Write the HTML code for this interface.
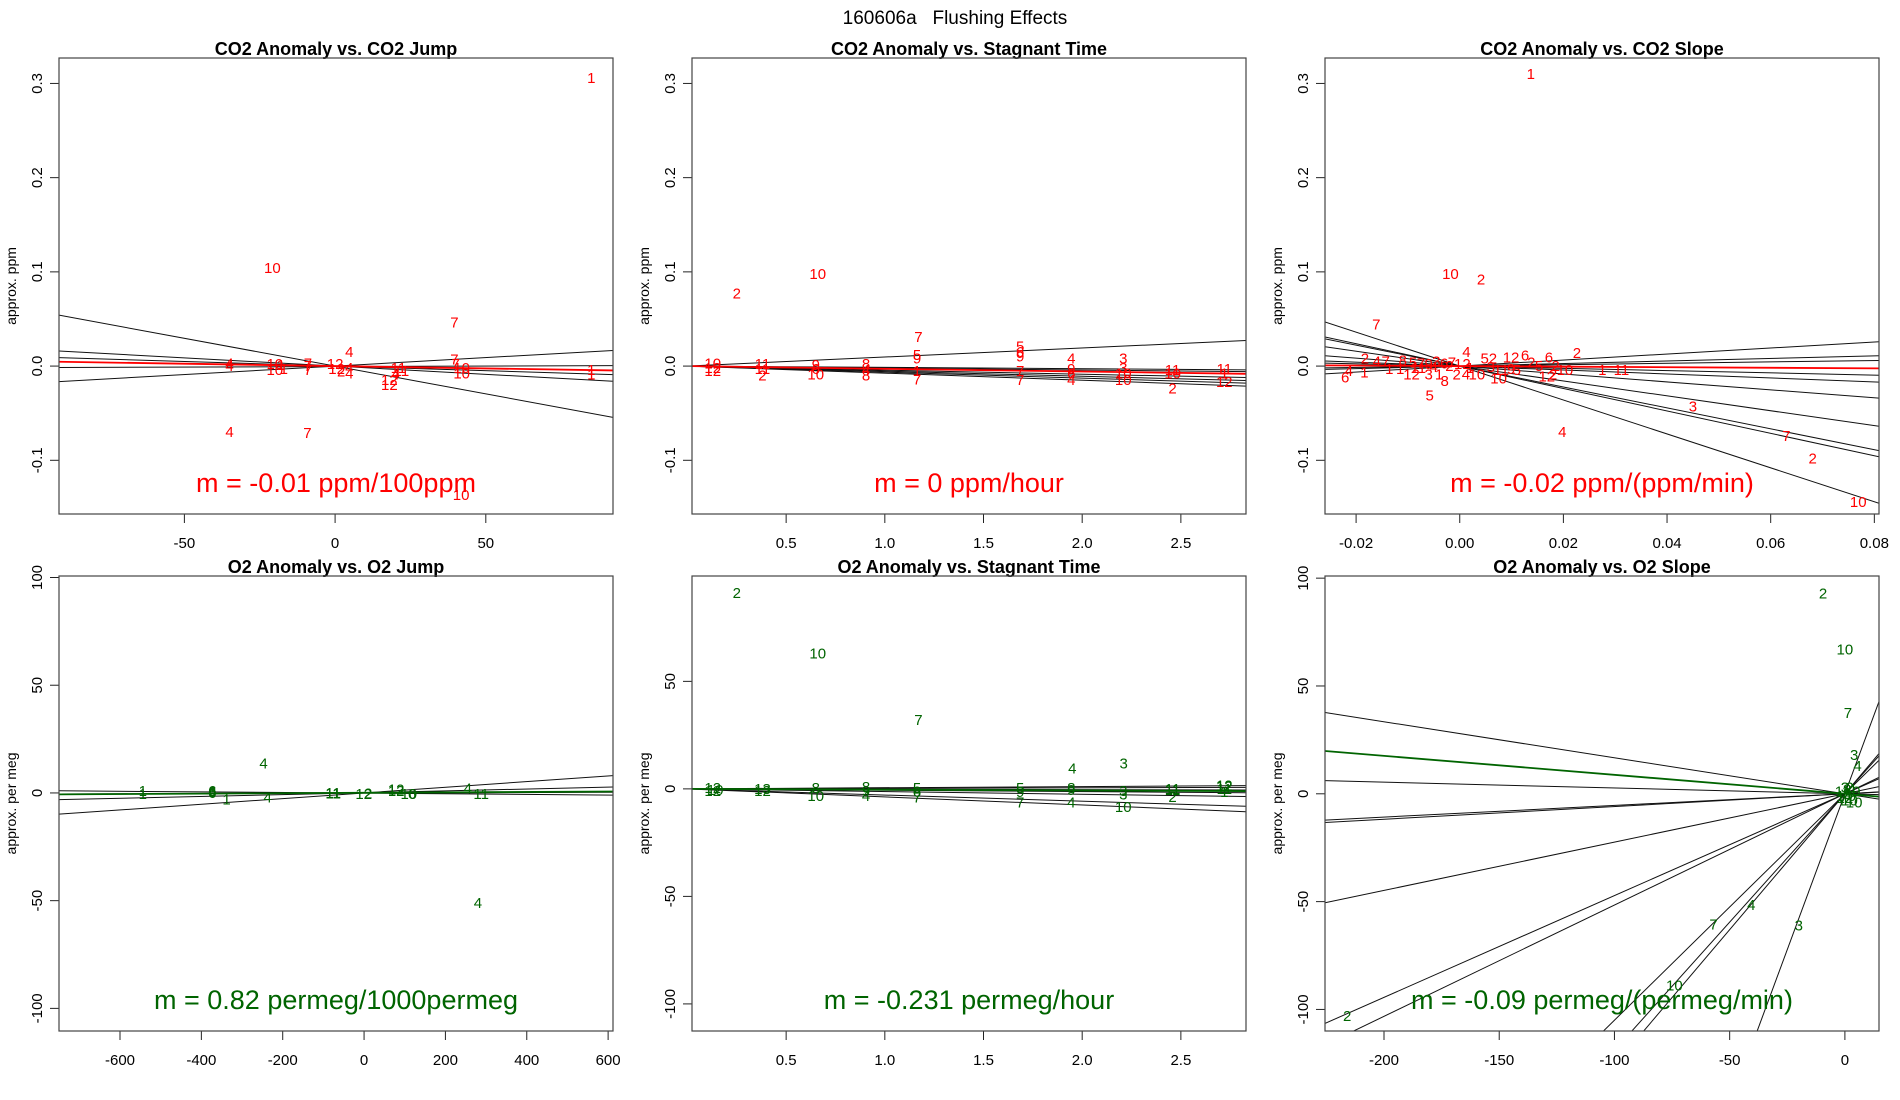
<!DOCTYPE html>
<html><head><meta charset="utf-8"><style>
html,body{margin:0;padding:0;background:#fff;width:1900px;height:1100px;overflow:hidden;}
svg{display:block;font-family:"Liberation Sans",Arial,sans-serif;}
</style></head><body>
<svg id="fig" width="1900" height="1100" viewBox="0 0 1900 1100" xmlns="http://www.w3.org/2000/svg">
<rect width="1900" height="1100" fill="#fff"/>
<text x="955" y="24" font-size="19" text-anchor="middle" style="white-space:pre" xml:space="preserve">160606a   Flushing Effects</text>
</svg>
<script>
// ---- Panel 1: CO2 Anomaly vs. CO2 Jump ----
const p1X=[85,-20.8,39.6,4.7,-35,-9.2,41.8,-35,-35,-20,-18,-20,-17,-9,-9,-9,0,0.5,2,4.7,4.7,18,18,20,21,22,39.6,40,42,42,85,85];
const p1Y=[0.306,0.104,0.046,0.015,-0.070,-0.071,-0.137,0.003,0.0,0.002,0.001,-0.004,-0.003,0.003,0.0,-0.004,0.002,-0.003,-0.006,-0.002,-0.008,-0.015,-0.020,-0.009,-0.002,-0.005,0.007,0.002,-0.002,-0.008,-0.004,-0.009];
const p1Lab=["1","10","7","4","4","7","10","4","4","10","1","10","1","7","7","7","12","12","2","4","4","12","12","4","11","11","7","7","10","10","1","1"];
const p1Slopes=[-0.00059,-0.000175,0.00018,-0.0000983,0.0000109];
const p1Ints=[0,0,0,0,-0.0005];
const p1Main=[-0.00005,0];
const p1XTicks=[-50,0,50];
const p1YTicks=[-0.1,0.0,0.1,0.2,0.3];
const p1YTickLabels=["-0.1","0.0","0.1","0.2","0.3"];

// ---- Panel 2: CO2 Anomaly vs. Stagnant Time ----
const p2X=[0.25,0.66,1.17,1.163,1.163,1.686,1.686,1.686,1.945,2.208,1.163,1.686,1.945,2.208,2.458,2.72,0.38,0.65,0.905,0.128,0.128,0.128,0.38,0.38,0.65,0.65,0.905,0.905,1.163,1.686,1.945,1.945,2.208,2.208,2.458,2.458,2.72,2.72];
const p2Y=[0.077,0.098,0.031,0.012,0.008,0.021,0.015,0.010,0.008,0.008,-0.014,-0.015,-0.015,-0.015,-0.024,-0.017,-0.010,-0.009,-0.010,0.003,-0.002,-0.005,0.002,-0.003,0.001,-0.003,0.002,-0.004,-0.005,-0.005,-0.003,-0.008,-0.002,-0.008,-0.004,-0.008,-0.003,-0.008];
const p2Lab=["2","10","7","5","9","5","6","9","4","3","7","7","4","10","2","12","2","10","8","10","12","12","11","11","9","6","8","4","1","7","9","6","3","10","11","10","11","1"];
const p2Slopes=[0.0096,-0.0014,-0.0021,-0.0043,-0.0054,-0.0064,-0.0075,-0.0029];
const p2Ints=[0,0,0,0,0,0,0,0];
const p2Main=[-0.0029,0];
const p2XTicks=[0.5,1.0,1.5,2.0,2.5];
const p2XTickLabels=["0.5","1.0","1.5","2.0","2.5"];

// ---- Panel 3: CO2 Anomaly vs. CO2 Slope ----
const p3X=[0.01372,-0.0018,0.0041,-0.0161,0.0013,0.0226,0.045,0.0198,0.063,0.0681,0.0769,-0.0058,-0.0029,-0.0221,-0.0214,-0.0184,-0.0183,-0.016,-0.0143,-0.011,-0.0136,-0.0115,-0.0093,-0.006,-0.004,-0.0006,0.0012,0.0033,0.0048,0.0064,0.0099,0.0126,0.0138,0.0153,0.0172,0.0185,0.0203,0.0275,0.0312,0.0075,0.0168,0.018,0.0099,-0.009,-0.0075,-0.006,-0.0045,-0.003,-0.0015,-0.008,-0.005,-0.002,0.0005,0.002,0.006,0.008,0.011];
const p3Y=[0.31,0.098,0.092,0.044,0.015,0.014,-0.043,-0.07,-0.074,-0.098,-0.144,-0.031,-0.016,-0.012,-0.005,-0.007,0.008,0.005,0.005,0.006,-0.003,-0.003,-0.009,-0.009,-0.009,-0.009,-0.009,-0.009,0.008,0.008,0.009,0.011,0.004,0.0,0.009,0.0,-0.004,-0.004,-0.004,-0.013,-0.011,-0.009,-0.003,0.004,0.003,0.002,0.005,0.003,0.004,-0.002,-0.001,0.0,0.002,-0.002,-0.001,-0.004,-0.004];
const p3Lab=["1","10","2","7","4","2","3","4","7","2","10","5","8","6","4","1","2","4","7","8","1","1","12","3","1","2","4","10","5","2","12","6","2","5","6","2","10","1","11","10","12","2","9","5","7","9","3","6","7","11","4","2","12","1","3","11","5"];
const p3Slopes=[-1.8,-1.19,-1.11,-0.79,-0.42,-0.21,-0.12,0.074,0.136,0.32];
const p3Ints=[0,0,0,0,0,0,0,0,0,0];
const p3Main=[-0.03,0];
const p3XTicks=[-0.02,0.0,0.02,0.04,0.06,0.08];
const p3XTickLabels=["-0.02","0.00","0.02","0.04","0.06","0.08"];

// ---- Panel 4: O2 Anomaly vs. O2 Jump ----
const p4X=[-247,280,-544,-373,-373,-338,-237,-76,-1,79,110,255,288,-544,-373,-76,-68,79,118,10];
const p4Y=[13.6,-51,-0.5,1,0,-3,-2,0,-0.5,1,-0.5,2,-0.5,0.8,0.5,-0.3,-0.2,1.5,-0.5,-0.3];
const p4Lab=["4","4","1","6","6","1","4","11","12","12","10","4","11","1","6","11","1","12","6","2"];
const p4Slopes=[0.01314,-0.00147,0.0043,0.00059];
const p4Ints=[0,-0.1,0.1,-0.06];
const p4Main=[0.00097,0.07];
const p4XTicks=[-600,-400,-200,0,200,400,600];
const p4YTicks=[-100,-50,0,50,100];

// ---- Panel 5: O2 Anomaly vs. Stagnant Time ----
const p5X=[0.25,0.66,1.17,1.95,2.21,0.65,0.905,1.163,1.686,1.945,2.208,2.458,2.72,0.128,0.14,0.128,0.38,0.38,0.65,0.905,0.905,1.163,1.163,1.686,1.686,1.945,1.945,2.208,2.208,2.458,2.458,2.72,2.72,2.72];
const p5Y=[91,63,32,9.5,11.7,-3.3,-3.3,-4,-6.3,-6.3,-8.5,-3.8,1,0.5,-0.5,-1,0,-1,0.5,0.8,-1,0.5,-1.5,0.3,-1.5,0.5,-0.5,-1,-2.5,-0.5,0,1.5,0,-1.5];
const p5Lab=["2","10","7","4","3","10","4","7","7","4","10","2","12","12","10","12","13","12","8","8","9","5","6","5","9","8","9","3","3","11","11","12","11","1"];
const p5Slopes=[0.54,0.25,-0.18,-0.64,-1.25,-2.86,-3.75];
const p5Ints=[0,0,0,0,0,0,0];
const p5Main=[-0.36,0];
const p5YTicks=[-100,-50,0,50];

// ---- Panel 6: O2 Anomaly vs. O2 Slope ----
const p6X=[-9.5,0,1.3,4,5.5,-40.6,-57,-20,-74,-216,0,2,-1,1,3,-2,2,4,5,0,1,-1,3];
const p6Y=[93,67,37.5,18,13,-51.6,-60.5,-61,-89,-103,3,3,1,0,-1,-1,-3,-4,1,-2,2,-3,2];
const p6Lab=["2","10","7","3","4","4","7","3","10","2","3","2","11","5","6","1","10","10","9","12","8","7","4"];
const p6Slopes=[-0.167,-0.027,0.054,0.059,0.224,0.472,0.516,1.05,1.19,1.26,2.89];
const p6Ints=[0,0,0,0,0,0,0,0,0,0,0];
const p6Main=[-0.088,0];
const p6XTicks=[-200,-150,-100,-50,0];

const NS="http://www.w3.org/2000/svg";
const svg=document.getElementById('fig');
function mk(tag,attrs,parent){const e=document.createElementNS(NS,tag);for(const k in attrs)e.setAttribute(k,attrs[k]);(parent||svg).appendChild(e);return e;}

function panel(cfg){
  const L=cfg.left,T=cfg.top,W=554,H=cfg.h;
  const g=mk('g',{});
  
  
  const sx=v=>L+(v-cfg.xlim[0])/(cfg.xlim[1]-cfg.xlim[0])*W;
  const sy=v=>T+H-(v-cfg.ylim[0])/(cfg.ylim[1]-cfg.ylim[0])*H;
  const cid='clip-'+cfg.name;
  const cp=mk('clipPath',{id:cid},g);mk('rect',{x:L,y:T,width:W,height:H},cp);
  const t=mk('text',{x:L+W/2,y:T-3,'font-size':18,'font-weight':'bold','text-anchor':'middle'},g);
  t.textContent=cfg.title;
  
  
  cfg.xt.forEach((v,i)=>{
    const x=sx(v);
    const tk=mk('line',{x1:x,y1:T+H,x2:x,y2:T+H+9,stroke:'#222','stroke-width':1},g);
    
    
    const lb=mk('text',{x:x,y:T+H+34,'font-size':15,'text-anchor':'middle'},g);
    lb.textContent=cfg.xtl?cfg.xtl[i]:String(v);
    
    
  });
  cfg.yt.forEach((v,i)=>{
    const y=sy(v);
    const tk=mk('line',{x1:L-9,y1:y,x2:L,y2:y,stroke:'#222','stroke-width':1},g);
    
    
    const lb=mk('text',{x:0,y:0,'font-size':15,'text-anchor':'middle',transform:`translate(${L-22},${y}) rotate(-90) translate(0,5)`},g);
    lb.textContent=cfg.ytl?cfg.ytl[i]:String(v);
    
    
  });
  const yl=mk('text',{x:0,y:0,'font-size':14,'text-anchor':'middle',transform:`translate(${L-43},${T+H/2}) rotate(-90)`},g);
  yl.textContent=cfg.ylab;
  
  
  const lg=mk('g',{'clip-path':`url(#${cid})`},g);
  cfg.slopes.forEach((s,i)=>{
    const b=cfg.ints[i];
    const x0=cfg.xlim[0],x1=cfg.xlim[1];
    const ln=mk('line',{x1:sx(x0),y1:sy(b+s*x0),x2:sx(x1),y2:sy(b+s*x1),stroke:'#111','stroke-width':1},lg);
    
    
  });
  {
    const s=cfg.main[0],b=cfg.main[1],x0=cfg.xlim[0],x1=cfg.xlim[1];
    const ln=mk('line',{x1:sx(x0),y1:sy(b+s*x0),x2:sx(x1),y2:sy(b+s*x1),stroke:cfg.color,'stroke-width':1.8},lg);
    
    
  }
  const pg=mk('g',{'clip-path':`url(#${cid})`},g);
  cfg.xs.forEach((v,i)=>{
    const p=mk('text',{x:sx(v),y:sy(cfg.ys[i])+5,'font-size':15,'text-anchor':'middle',fill:cfg.color},pg);
    p.textContent=cfg.labs[i];
    
    
  });
  const m=mk('text',{x:L+W/2,y:T+H-22,'font-size':27,'text-anchor':'middle',fill:cfg.color},g);
  m.textContent=cfg.mtext;
  
  
  const box=mk('rect',{x:L,y:T,width:W,height:H,fill:'none',stroke:'#444','stroke-width':1.2},g);
  
  
}
const RED='#ff0000',GRN='#006400';
const topY=[-0.157,0.327];
panel({name:'co2-vs-jump',left:59,top:58,h:456,xlim:[-91.6,92.2],ylim:topY,xt:p1XTicks,yt:p1YTicks,ytl:p1YTickLabels,ylab:'approx. ppm',title:'CO2 Anomaly vs. CO2 Jump',color:RED,xs:p1X,ys:p1Y,labs:p1Lab,slopes:p1Slopes,ints:p1Ints,main:p1Main,mtext:'m = -0.01 ppm/100ppm'});
panel({name:'co2-vs-stagnant',left:692,top:58,h:456,xlim:[0.023,2.83],ylim:topY,xt:p2XTicks,xtl:p2XTickLabels,yt:p1YTicks,ytl:p1YTickLabels,ylab:'approx. ppm',title:'CO2 Anomaly vs. Stagnant Time',color:RED,xs:p2X,ys:p2Y,labs:p2Lab,slopes:p2Slopes,ints:p2Ints,main:p2Main,mtext:'m = 0 ppm/hour'});
panel({name:'co2-vs-slope',left:1325,top:58,h:456,xlim:[-0.026,0.0809],ylim:topY,xt:p3XTicks,xtl:p3XTickLabels,yt:p1YTicks,ytl:p1YTickLabels,ylab:'approx. ppm',title:'CO2 Anomaly vs. CO2 Slope',color:RED,xs:p3X,ys:p3Y,labs:p3Lab,slopes:p3Slopes,ints:p3Ints,main:p3Main,mtext:'m = -0.02 ppm/(ppm/min)'});
panel({name:'o2-vs-jump',left:59,top:576,h:455,xlim:[-750,612],ylim:[-110.5,100.7],xt:p4XTicks,yt:p4YTicks,ylab:'approx. per meg',title:'O2 Anomaly vs. O2 Jump',color:GRN,xs:p4X,ys:p4Y,labs:p4Lab,slopes:p4Slopes,ints:p4Ints,main:p4Main,mtext:'m = 0.82 permeg/1000permeg'});
panel({name:'o2-vs-stagnant',left:692,top:576,h:455,xlim:[0.023,2.83],ylim:[-112.6,99],xt:p2XTicks,xtl:p2XTickLabels,yt:p5YTicks,ylab:'approx. per meg',title:'O2 Anomaly vs. Stagnant Time',color:GRN,xs:p5X,ys:p5Y,labs:p5Lab,slopes:p5Slopes,ints:p5Ints,main:p5Main,mtext:'m = -0.231 permeg/hour'});
panel({name:'o2-vs-slope',left:1325,top:576,h:455,xlim:[-225.6,14.8],ylim:[-110,101],xt:p6XTicks,yt:p4YTicks,ylab:'approx. per meg',title:'O2 Anomaly vs. O2 Slope',color:GRN,xs:p6X,ys:p6Y,labs:p6Lab,slopes:p6Slopes,ints:p6Ints,main:p6Main,mtext:'m = -0.09 permeg/(permeg/min)'});
</script>
</body></html>
